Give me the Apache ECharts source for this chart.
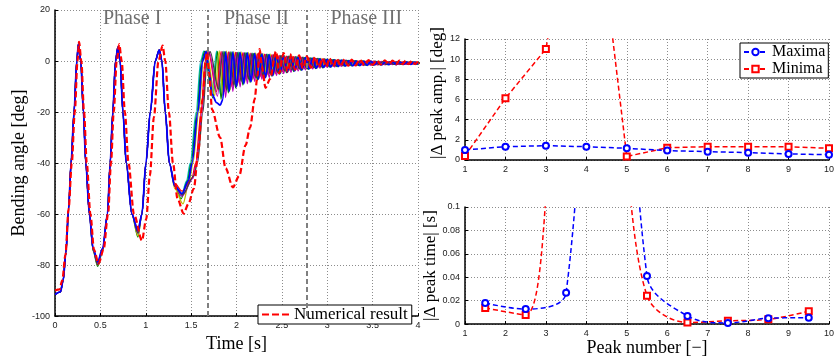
<!DOCTYPE html>
<html><head><meta charset="utf-8">
<script src="https://cdn.jsdelivr.net/npm/echarts@6/dist/echarts.min.js"></script>
<style>html,body{margin:0;padding:0;background:#fff}#c{width:837px;height:358px}</style>
</head><body><div id="c"></div><script>
// ---------- left panel: bending angle vs time ----------
const phaseBounds = [1.683, 2.77];
const phaseLabels = [['Phase I', 0.85, 16.5], ['Phase II', 2.22, 16.5], ['Phase III', 3.43, 16.5]];

const simCyan = [[0,-91.5],[0.06,-90.5],[0.09,-86],[0.12,-75],[0.15,-58],[0.177,-40],[0.21,-20],[0.24,0],[0.258,6.6],[0.284,0],[0.313,-20],[0.339,-40],[0.379,-60],[0.42,-74],[0.47,-79.5],[0.525,-74],[0.578,-60],[0.608,-40],[0.637,-20],[0.667,0],[0.693,5.4],[0.718,0],[0.748,-20],[0.785,-40],[0.847,-60],[0.914,-67],[0.958,-60],[1.002,-40],[1.05,-20],[1.105,0],[1.149,4.4],[1.178,0],[1.215,-20],[1.26,-40],[1.32,-49],[1.39,-53],[1.45,-47],[1.49,-40],[1.555,-20],[1.605,0],[1.64,3.9],[1.73,-12.5],
[1.78,3.9],[1.82,-12.8],[1.86,3.8],[1.90,-10.6],[1.94,3.6],[1.98,-9.0],[2.02,3.45],[2.06,-8.0],[2.10,3.3],[2.14,-7.2],[2.18,3.1],[2.22,-6.5],[2.26,2.9],[2.30,-5.8],[2.34,2.65],[2.38,-5.1],[2.42,2.4],[2.46,-4.4],[2.50,2.15],[2.54,-3.9],[2.58,1.95],[2.62,-3.5],[2.66,1.7],[2.70,-3.1],[2.74,1.45],[2.78,-2.8],[2.82,1.2],[2.86,-2.5],[2.90,1.0],[2.94,-2.3],[2.98,0.7],[3.02,-2.2],[3.06,0.5],[3.10,-2.0],[3.14,0.35],[3.18,-1.9],[3.22,0.2],[3.26,-1.8],[3.30,0.1],[3.34,-1.7],[3.38,0.0],[3.42,-1.6],[3.46,-0.1],[3.50,-1.5],[3.54,-0.15],[3.58,-1.45],[3.62,-0.2],[3.66,-1.4],[3.70,-0.25],[3.74,-1.35],[3.78,-0.3],[3.82,-1.3],[3.86,-0.35],[3.90,-1.25],[3.94,-0.4],[3.98,-1.2],[4.02,-0.45]];

const simGreen = [[0,-91.5],[0.06,-90.5],[0.09,-86],[0.12,-75],[0.15,-58],[0.177,-40],[0.21,-20],[0.24,0],[0.258,6.6],[0.284,0],[0.313,-20],[0.339,-40],[0.379,-60],[0.42,-74.5],[0.47,-80.5],[0.525,-74.5],[0.578,-60],[0.608,-40],[0.637,-20],[0.667,0],[0.693,5.4],[0.718,0],[0.748,-20],[0.785,-40],[0.847,-60],[0.914,-69],[0.958,-60],[1.002,-40],[1.05,-20],[1.105,0],[1.149,4.4],[1.178,0],[1.215,-20],[1.26,-40],[1.32,-49],[1.39,-54],[1.46,-47],[1.50,-40],[1.565,-20],[1.615,0],[1.65,3.8],[1.74,-14.5],
[1.79,3.8],[1.83,-15],[1.87,3.7],[1.91,-12.5],[1.95,3.5],[1.99,-10.6],[2.03,3.35],[2.07,-9.4],[2.11,3.2],[2.15,-8.5],[2.19,3.0],[2.23,-7.6],[2.27,2.8],[2.31,-6.8],[2.35,2.55],[2.39,-6.0],[2.43,2.3],[2.47,-5.2],[2.51,2.05],[2.55,-4.6],[2.59,1.85],[2.63,-4.1],[2.67,1.6],[2.71,-3.7],[2.75,1.35],[2.79,-3.3],[2.83,1.1],[2.87,-2.95],[2.91,0.9],[2.95,-2.65],[2.99,0.65],[3.03,-2.4],[3.07,0.5],[3.11,-2.2],[3.15,0.35],[3.19,-2.0],[3.23,0.2],[3.27,-1.9],[3.31,0.1],[3.35,-1.8],[3.39,0.0],[3.43,-1.7],[3.47,-0.1],[3.51,-1.6],[3.55,-0.15],[3.59,-1.5],[3.63,-0.2],[3.67,-1.45],[3.71,-0.25],[3.75,-1.4],[3.79,-0.3],[3.83,-1.35],[3.87,-0.35],[3.91,-1.3],[3.95,-0.4],[3.99,-1.25],[4.03,-0.45]];

const simOlive = [[0,-91.5],[0.06,-90.5],[0.09,-86],[0.12,-75],[0.15,-58],[0.177,-40],[0.21,-20],[0.24,0],[0.258,6.6],[0.284,0],[0.313,-20],[0.339,-40],[0.379,-60],[0.42,-74],[0.47,-80],[0.525,-74],[0.578,-60],[0.608,-40],[0.637,-20],[0.667,0],[0.693,5.4],[0.718,0],[0.748,-20],[0.785,-40],[0.847,-60],[0.914,-68.5],[0.958,-60],[1.002,-40],[1.05,-20],[1.105,0],[1.149,4.4],[1.178,0],[1.215,-20],[1.26,-40],[1.32,-50],[1.41,-56],[1.48,-47],[1.52,-40],[1.585,-20],[1.635,0],[1.67,4.0],[1.76,-13.5],
[1.81,4.0],[1.85,-13.5],[1.89,3.9],[1.93,-11.3],[1.97,3.7],[2.01,-9.5],[2.05,3.55],[2.09,-8.5],[2.13,3.4],[2.17,-7.7],[2.21,3.2],[2.25,-6.8],[2.29,3.0],[2.33,-6.1],[2.37,2.75],[2.41,-5.4],[2.45,2.5],[2.49,-4.7],[2.53,2.25],[2.57,-4.1],[2.61,2.05],[2.65,-3.7],[2.69,1.8],[2.73,-3.3],[2.77,1.55],[2.81,-3.0],[2.85,1.3],[2.89,-2.7],[2.93,1.05],[2.97,-2.4],[3.01,0.75],[3.05,-2.2],[3.09,0.55],[3.13,-2.0],[3.17,0.4],[3.21,-1.9],[3.25,0.25],[3.29,-1.8],[3.33,0.1],[3.37,-1.7],[3.41,0.0],[3.45,-1.6],[3.49,-0.05],[3.53,-1.5],[3.57,-0.1],[3.61,-1.4],[3.65,-0.15],[3.69,-1.4],[3.73,-0.2],[3.77,-1.35],[3.81,-0.25],[3.85,-1.3],[3.89,-0.3],[3.93,-1.25],[3.97,-0.35],[4.01,-1.2]];

const simRed = [[0,-91.5],[0.06,-90.5],[0.09,-86],[0.12,-75],[0.15,-58],[0.177,-40],[0.21,-20],[0.24,0],[0.258,6.6],[0.284,0],[0.313,-20],[0.339,-40],[0.379,-60],[0.42,-73.5],[0.47,-79],[0.525,-73.5],[0.578,-60],[0.608,-40],[0.637,-20],[0.667,0],[0.693,5.4],[0.718,0],[0.748,-20],[0.785,-40],[0.847,-60],[0.914,-66],[0.958,-60],[1.002,-40],[1.05,-20],[1.105,0],[1.149,4.4],[1.178,0],[1.215,-20],[1.26,-40],[1.32,-48],[1.40,-51],[1.51,-46],[1.55,-40],[1.61,-20],[1.655,0],[1.69,3.7],[1.78,-12],
[1.83,3.7],[1.87,-12.0],[1.91,3.6],[1.95,-10.0],[1.99,3.4],[2.03,-8.5],[2.07,3.25],[2.11,-7.5],[2.15,3.1],[2.19,-6.8],[2.23,2.9],[2.27,-6.1],[2.31,2.7],[2.35,-5.4],[2.39,2.45],[2.43,-4.8],[2.47,2.2],[2.51,-4.2],[2.55,1.95],[2.59,-3.7],[2.63,1.75],[2.67,-3.3],[2.71,1.5],[2.75,-3.0],[2.79,1.25],[2.83,-2.6],[2.87,1.0],[2.91,-2.4],[2.95,0.8],[2.99,-2.1],[3.03,0.55],[3.07,-2.0],[3.11,0.45],[3.15,-1.9],[3.19,0.3],[3.23,-1.8],[3.27,0.15],[3.31,-1.7],[3.35,0.05],[3.39,-1.6],[3.43,-0.05],[3.47,-1.5],[3.51,-0.1],[3.55,-1.5],[3.59,-0.2],[3.63,-1.4],[3.67,-0.2],[3.71,-1.35],[3.75,-0.25],[3.79,-1.3],[3.83,-0.3],[3.87,-1.3],[3.91,-0.35],[3.95,-1.25],[3.99,-0.4],[4.03,-1.2]];

const simMagenta = [[0,-91.5],[0.06,-90.5],[0.09,-86],[0.12,-75],[0.15,-58],[0.177,-40],[0.21,-20],[0.24,0],[0.258,6.6],[0.284,0],[0.313,-20],[0.339,-40],[0.379,-60],[0.42,-74],[0.47,-79.5],[0.525,-74],[0.578,-60],[0.608,-40],[0.637,-20],[0.667,0],[0.693,5.4],[0.718,0],[0.748,-20],[0.785,-40],[0.847,-60],[0.914,-67.5],[0.958,-60],[1.002,-40],[1.05,-20],[1.105,0],[1.149,4.4],[1.178,0],[1.215,-20],[1.26,-40],[1.32,-49],[1.40,-53],[1.52,-46],[1.56,-40],[1.62,-20],[1.665,0],[1.70,3.6],[1.79,-13.8],
[1.84,3.6],[1.88,-14.3],[1.92,3.5],[1.96,-11.9],[2.00,3.3],[2.04,-10.1],[2.08,3.15],[2.12,-8.9],[2.16,3.0],[2.20,-8.1],[2.24,2.8],[2.28,-7.2],[2.32,2.6],[2.36,-6.5],[2.40,2.35],[2.44,-5.7],[2.48,2.1],[2.52,-4.9],[2.56,1.85],[2.60,-4.4],[2.64,1.65],[2.68,-3.9],[2.72,1.4],[2.76,-3.5],[2.80,1.15],[2.84,-3.1],[2.88,0.9],[2.92,-2.8],[2.96,0.7],[3.00,-2.5],[3.04,0.5],[3.08,-2.3],[3.12,0.4],[3.16,-2.1],[3.20,0.3],[3.24,-1.9],[3.28,0.15],[3.32,-1.85],[3.36,0.05],[3.40,-1.75],[3.44,-0.05],[3.48,-1.65],[3.52,-0.1],[3.56,-1.55],[3.60,-0.15],[3.64,-1.5],[3.68,-0.2],[3.72,-1.45],[3.76,-0.25],[3.80,-1.4],[3.84,-0.3],[3.88,-1.35],[3.92,-0.35],[3.96,-1.3],[4.00,-0.4]];

const simGray = [[0,-91.5],[0.06,-90.5],[0.09,-86],[0.12,-75],[0.15,-58],[0.177,-40],[0.21,-20],[0.24,0],[0.258,6.6],[0.284,0],[0.313,-20],[0.339,-40],[0.379,-60],[0.42,-74],[0.47,-80],[0.525,-74],[0.578,-60],[0.608,-40],[0.637,-20],[0.667,0],[0.693,5.4],[0.718,0],[0.748,-20],[0.785,-40],[0.847,-60],[0.914,-67.5],[0.958,-60],[1.002,-40],[1.05,-20],[1.105,0],[1.149,4.4],[1.178,0],[1.215,-20],[1.26,-40],[1.32,-49],[1.405,-52.5],[1.53,-45],[1.57,-40],[1.63,-20],[1.675,0],[1.71,3.7],[1.80,-11],
[1.85,3.7],[1.89,-11.3],[1.93,3.6],[1.97,-9.4],[2.01,3.4],[2.05,-8.0],[2.09,3.25],[2.13,-7.1],[2.17,3.1],[2.21,-6.4],[2.25,2.9],[2.29,-5.7],[2.33,2.7],[2.37,-5.1],[2.41,2.45],[2.45,-4.5],[2.49,2.2],[2.53,-3.9],[2.57,1.95],[2.61,-3.5],[2.65,1.75],[2.69,-3.1],[2.73,1.5],[2.77,-2.8],[2.81,1.25],[2.85,-2.5],[2.89,1.0],[2.93,-2.2],[2.97,0.8],[3.01,-2.0],[3.05,0.55],[3.09,-1.9],[3.13,0.45],[3.17,-1.8],[3.21,0.3],[3.25,-1.7],[3.29,0.15],[3.33,-1.6],[3.37,0.05],[3.41,-1.55],[3.45,-0.05],[3.49,-1.5],[3.53,-0.1],[3.57,-1.45],[3.61,-0.2],[3.65,-1.4],[3.69,-0.2],[3.73,-1.35],[3.77,-0.25],[3.81,-1.3],[3.85,-0.3],[3.89,-1.25],[3.93,-0.35],[3.97,-1.2],[4.01,-0.4]];

const simBlue = [[0,-91.5],[0.06,-90.5],[0.09,-86],[0.12,-75],[0.15,-58],[0.177,-40],[0.21,-20],[0.24,0],[0.258,6.6],[0.284,0],[0.313,-20],[0.339,-40],[0.379,-60],[0.42,-73.5],[0.47,-78.7],[0.525,-73.5],[0.578,-60],[0.608,-40],[0.637,-20],[0.667,0],[0.693,5.4],[0.718,0],[0.748,-20],[0.785,-40],[0.847,-60],[0.914,-66.5],[0.958,-60],[1.002,-40],[1.05,-20],[1.105,0],[1.149,4.4],[1.178,0],[1.215,-20],[1.26,-40],[1.32,-49],[1.40,-52],[1.47,-47],[1.51,-40],[1.575,-20],[1.625,0],[1.665,3.8],[1.70,-4],[1.73,-13],[1.78,-16.3],[1.82,-17.3],[1.85,-15],
[1.88,3.6],[1.92,-11.9],[1.96,3.45],[2.00,-10.1],[2.04,3.3],[2.08,-8.9],[2.12,3.15],[2.16,-8.1],[2.20,2.95],[2.24,-7.2],[2.28,2.75],[2.32,-6.5],[2.36,2.5],[2.40,-5.7],[2.44,2.25],[2.48,-4.9],[2.52,2.0],[2.56,-4.4],[2.60,1.8],[2.64,-3.9],[2.68,1.55],[2.72,-3.5],[2.76,1.3],[2.80,-3.1],[2.84,1.05],[2.88,-2.8],[2.92,0.85],[2.96,-2.5],[3.00,0.6],[3.04,-2.3],[3.08,0.45],[3.12,-2.1],[3.16,0.3],[3.20,-1.95],[3.24,0.15],[3.28,-1.85],[3.32,0.05],[3.36,-1.75],[3.40,-0.05],[3.44,-1.65],[3.48,-0.1],[3.52,-1.55],[3.56,-0.2],[3.60,-1.5],[3.64,-0.25],[3.68,-1.45],[3.72,-0.3],[3.76,-1.4],[3.80,-0.35],[3.84,-1.35],[3.88,-0.4],[3.92,-1.3],[3.96,-0.45],[4.00,-1.25]];

const numericalResult = [[0,-90],[0.05,-89.5],[0.08,-86],[0.115,-76],[0.15,-58],[0.185,-40],[0.218,-20],[0.248,0],[0.265,7.5],[0.29,0],[0.32,-20],[0.35,-40],[0.39,-60],[0.43,-74],[0.48,-79.5],[0.535,-74],[0.585,-60],[0.617,-40],[0.647,-20],[0.68,0],[0.708,6.6],[0.735,0],[0.77,-20],[0.81,-40],[0.87,-60],[0.958,-70.4],[1.005,-62],[1.045,-45],[1.09,-22],[1.14,0],[1.186,6.0],[1.215,0],[1.255,-20],[1.30,-40],[1.35,-54],[1.418,-59.8],[1.47,-56],[1.53,-50],[1.58,-35],[1.625,-15],[1.66,0],[1.675,3.4],[1.70,-5],[1.73,-19],[1.82,-30],[1.88,-42],[1.96,-49.5],[2.03,-45],[2.10,-33],[2.15,-26],[2.20,-15],[2.23,-6],[2.255,4.7],[2.28,-2],[2.32,-10.5],[2.37,-7],[2.435,3.8],[2.47,-4.8],[2.52,3.1],[2.56,-4.2],[2.605,2.8],[2.645,-3.4],[2.69,2.2],[2.73,-2.9],[2.775,1.8],[2.82,-2.6],[2.865,1.5],[2.91,-2.3],[2.95,1.0],[2.99,-2.2],[3.025,1.1],[3.065,-2.1],[3.105,0.9],[3.15,-2.0],[3.19,0.7],[3.23,-1.8],[3.27,0.6],[3.31,-1.7],[3.36,0.5],[3.41,-1.6],[3.455,0.4],[3.50,-1.5],[3.545,0.3],[3.59,-1.4],[3.635,0.3],[3.68,-1.35],[3.72,0.2],[3.76,-1.3],[3.795,0.2],[3.83,-1.25],[3.865,0.15],[3.90,-1.2],[3.935,0.1],[3.97,-1.2],[4.0,0.0]];

// ---------- right panels ----------
const peakNumber = [1,2,3,4,5,6,7,8,9,10];
const ampMaxima = [1.0,1.32,1.42,1.32,1.16,0.93,0.83,0.73,0.6,0.53];
const ampMinima = [0.4,6.12,11.0,34,0.35,1.22,1.32,1.32,1.32,1.16];
const halfPeakNumber = [1.5,2.5,3.5,4.5,5.5,6.5,7.5,8.5,9.5];
const timeMaxima = [0.018,0.0128,0.0268,0.55,0.041,0.007,0.001,0.005,0.0055];
const timeMinima = [0.0138,0.0078,0.21,0.21,0.0243,0.0014,0.0028,0.0041,0.011];

const SERIF = '"Liberation Serif", "Times New Roman", serif';
const SANS = '"Liberation Sans", Arial, sans-serif';
const pair = (xs, ys) => xs.map((x, i) => [x, ys[i]]);

function axis(extra) {
  return Object.assign({
    type: 'value',
    axisLine: { show: true, onZero: false, lineStyle: { color: '#000', width: 1.5 } },
    axisTick: { show: true, inside: true, length: 3, lineStyle: { color: '#000', width: 1 } },
    axisLabel: { fontFamily: SANS, fontSize: 9, color: '#222', margin: 5 },
    splitLine: { show: true, lineStyle: { type: [1, 2], color: '#8c8c8c', width: 1 } },
    nameLocation: 'middle',
    nameTextStyle: { fontFamily: SERIF, fontSize: 18, color: '#000' }
  }, extra);
}

const ensemble = [
  ['cyan', simCyan, '#00bfbf'],
  ['green', simGreen, '#008000'],
  ['olive', simOlive, '#bfbf00'],
  ['red', simRed, '#ff0000'],
  ['magenta', simMagenta, '#bf00bf'],
  ['gray', simGray, '#404040'],
];

const series = ensemble.map(([n, d, c]) => ({
  name: n, type: 'line', xAxisIndex: 0, yAxisIndex: 0, data: d,
  showSymbol: false, symbol: 'none', smooth: 0.3, smoothMonotone: 'x',
  lineStyle: { color: c, width: 1.3 }, itemStyle: { color: c }, silent: true
}));
series.push({
  name: 'blue', type: 'line', xAxisIndex: 0, yAxisIndex: 0, data: simBlue,
  showSymbol: false, symbol: 'none', smooth: 0.3, smoothMonotone: 'x',
  lineStyle: { color: '#0000ff', width: 1.8 }, itemStyle: { color: '#0000ff' }, silent: true
});
series.push({
  name: 'Numerical result', type: 'line', xAxisIndex: 0, yAxisIndex: 0, data: numericalResult,
  showSymbol: false, symbol: 'none', smooth: 0.3, smoothMonotone: 'x', z: 5,
  lineStyle: { color: '#ff0000', width: 2.2, type: [6, 3] }, itemStyle: { color: '#ff0000' },
  markLine: {
    silent: true, symbol: 'none', label: { show: false },
    lineStyle: { color: '#7f7f7f', width: 2, type: [5, 3] },
    data: phaseBounds.map(v => ({ xAxis: v }))
  },
  markPoint: {
    silent: true, symbol: 'circle', symbolSize: 0,
    label: { show: true, position: 'inside', fontFamily: SERIF, fontSize: 20, color: '#6f6f6f' },
    data: phaseLabels.map(([t, x, y]) => ({ coord: [x, y], label: { formatter: t } }))
  }
});

const blueLine = { color: '#0000ff', width: 1.5, type: [5, 3] };
const redLine = { color: '#ff0000', width: 1.5, type: [5, 3] };
series.push(
  { name: 'Maxima', type: 'line', xAxisIndex: 1, yAxisIndex: 1, data: pair(peakNumber, ampMaxima),
    symbol: 'emptyCircle', symbolSize: 6, lineStyle: blueLine, itemStyle: { color: '#0000ff', borderWidth: 1.3 }, z: 4 },
  { name: 'Minima', type: 'line', xAxisIndex: 1, yAxisIndex: 1, data: pair(peakNumber, ampMinima),
    symbol: 'emptyRect', symbolSize: 6, lineStyle: redLine, itemStyle: { color: '#ff0000', borderWidth: 1.3 }, z: 3 },
  { name: 'Maxima', type: 'line', xAxisIndex: 2, yAxisIndex: 2, data: pair(halfPeakNumber, timeMaxima),
    symbol: 'emptyCircle', symbolSize: 6, smooth: 0.35, lineStyle: blueLine, itemStyle: { color: '#0000ff', borderWidth: 1.3 }, z: 4 },
  { name: 'Minima', type: 'line', xAxisIndex: 2, yAxisIndex: 2, data: pair(halfPeakNumber, timeMinima),
    symbol: 'emptyRect', symbolSize: 6, smooth: 0.35, lineStyle: redLine, itemStyle: { color: '#ff0000', borderWidth: 1.3 }, z: 3 }
);

const option = {
  animation: false,
  backgroundColor: '#fff',
  grid: [
    { left: 55, top: 10, width: 363, height: 314 },
    { left: 465, top: 39, width: 368, height: 121 },
    { left: 465, top: 207, width: 368, height: 121 }
  ],
  xAxis: [
    axis({ gridIndex: 0, min: 0, max: 4, interval: 0.5, name: 'Time [s]', nameGap: 12 }),
    axis({ gridIndex: 1, min: 1, max: 10, interval: 1 }),
    axis({ gridIndex: 2, min: 1, max: 10, interval: 1, name: 'Peak number [\u2212]', nameGap: 11 })
  ],
  yAxis: [
    axis({ gridIndex: 0, min: -100, max: 20, interval: 20, name: 'Bending angle [deg]', nameGap: 26 }),
    axis({ gridIndex: 1, min: 0, max: 12, interval: 2, name: '|\u0394 peak amp.| [deg]', nameGap: 16,
      nameTextStyle: { fontFamily: SERIF, fontSize: 17, color: '#000', padding: [0, 0, 0, 13] } }),
    axis({ gridIndex: 2, min: 0, max: 0.1, interval: 0.02, name: '|\u0394 peak time| [s]', nameGap: 22,
      nameTextStyle: { fontFamily: SERIF, fontSize: 17, color: '#000' } })
  ],
  legend: [
    { data: [{ name: 'Numerical result', icon: 'path://M0,0H7V2H0Z M10,0H17V2H10Z M20,0H27V2H20Z' }],
      left: 258, top: 305, orient: 'horizontal',
      backgroundColor: '#fff', borderColor: '#000', borderWidth: 1, padding: [1, 4, 1, 4],
      itemWidth: 27, itemHeight: 2.2, selectedMode: false,
      textStyle: { fontFamily: SERIF, fontSize: 17, color: '#000', lineHeight: 15 } },
    { data: ['Maxima', 'Minima'], left: 740, top: 43, orient: 'vertical',
      backgroundColor: '#fff', borderColor: '#000', borderWidth: 1, padding: [1, 3, 1, 3],
      itemWidth: 23, itemHeight: 8, itemGap: 1, selectedMode: false,
      textStyle: { fontFamily: SERIF, fontSize: 16, color: '#000', lineHeight: 11.5 } }
  ],
  series: series
};

const chart = echarts.init(document.getElementById('c'), null, { renderer: 'canvas' });
chart.setOption(option);
</script></body></html>
